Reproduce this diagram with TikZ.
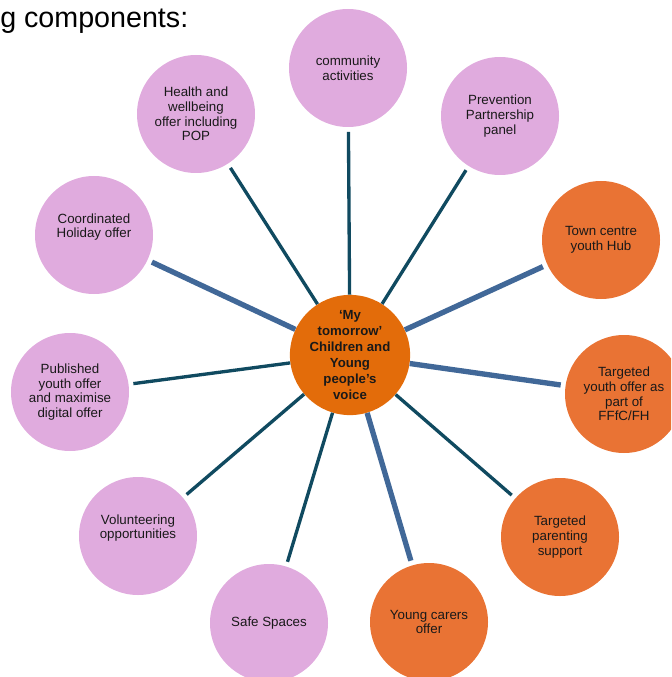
\documentclass[tikz,border=0pt]{standalone}
\usepackage{fontspec}
\setmainfont{Liberation Sans}
\definecolor{lilac}{RGB}{224,171,222}
\definecolor{ember}{RGB}{233,115,52}
\definecolor{hubfill}{RGB}{227,108,10}
\definecolor{petrol}{RGB}{16,74,96}
\definecolor{steel}{RGB}{65,104,152}
\begin{document}
\begin{tikzpicture}[x=0.75pt,y=-0.75pt]
	\tikzstyle{bubble} = [circle, minimum size=88.5pt, inner sep=0, align=center, text=black!90, font=\fontsize{10}{11}\selectfont]
	\tikzstyle{pinkbubble} = [bubble, fill=lilac]
	\tikzstyle{orangebubble} = [bubble, fill=ember]
	\tikzstyle{hub} = [bubble, fill=hubfill, font=\bfseries\fontsize{9.9}{12}\selectfont]
	\tikzstyle{darkline} = [draw=petrol, line width=2.5pt, shorten >=3.5pt]
	\tikzstyle{blueline} = [draw=steel, line width=4pt, shorten >=3.5pt]

	\clip (0,0) rectangle (671,677);
	\useasboundingbox (0,0) rectangle (671,677);

	\node [anchor=base west, inner sep=0, font=\fontsize{21.5}{25}\selectfont] (head) at (0,28) {g components:};

	\node [hub] (v0) at (350,355) {‘My\\tomorrow’\\Children and\\Young\\people’s\\voice};

	\node [pinkbubble] (v1) at (348,68) {community\\activities};
	\node [pinkbubble] (v2) at (500,116) {Prevention\\Partnership\\panel};
	\node [orangebubble] (v3) at (601,240) {Town centre\\youth Hub};
	\node [orangebubble] (v4) at (624,394) {Targeted\\youth offer as\\part of\\FFfC/FH};
	\node [orangebubble] (v5) at (560,537) {Targeted\\parenting\\support};
	\node [orangebubble] (v6) at (429,622) {Young carers\\offer};
	\node [pinkbubble] (v7) at (269,623) {Safe Spaces};
	\node [pinkbubble] (v8) at (138,536) {Volunteering\\opportunities\\[3pt]\mbox{}};
	\node [pinkbubble] (v9) at (70,392) {Published\\youth offer\\and maximise\\digital offer};
	\node [pinkbubble] (v10) at (94,235) {Coordinated\\Holiday offer\\[3pt]\mbox{}};
	\node [pinkbubble] (v11) at (196,114) {Health and\\wellbeing\\offer including\\POP};

	\draw [darkline] (v0) -- (v1);
	\draw [darkline] (v0) -- (v2);
	\draw [blueline] (v0) -- (v3);
	\draw [blueline] (v0) -- (v4);
	\draw [darkline] (v0) -- (v5);
	\draw [blueline] (v0) -- (v6);
	\draw [darkline] (v0) -- (v7);
	\draw [darkline] (v0) -- (v8);
	\draw [darkline] (v0) -- (v9);
	\draw [blueline] (v0) -- (v10);
	\draw [darkline] (v0) -- (v11);
\end{tikzpicture}
\end{document}
